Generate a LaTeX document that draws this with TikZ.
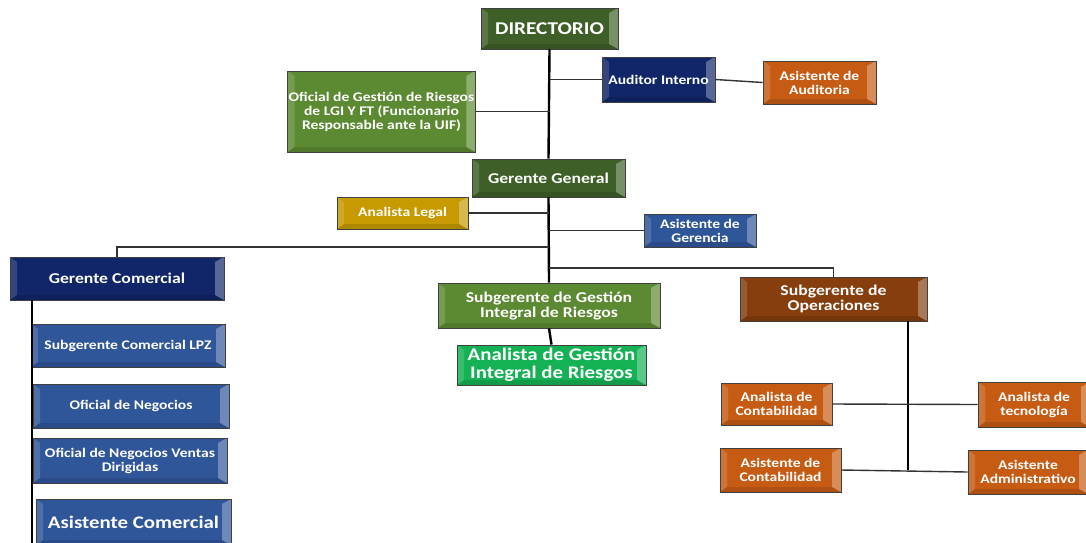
\documentclass[tikz,border=0pt]{standalone}
\usepackage{fontspec}
\setmainfont{Carlito}
\newfontfamily\boxfont[FakeStretch=1.18]{Carlito}

\definecolor{ccdkgreen}{RGB}{62,96,40}
\definecolor{ccgreen}{RGB}{92,138,50}
\definecolor{ccbright}{RGB}{20,178,85}
\definecolor{ccnavy}{RGB}{17,38,104}
\definecolor{ccblue}{RGB}{48,86,154}
\definecolor{ccorange}{RGB}{198,92,20}
\definecolor{ccbrown}{RGB}{134,62,14}
\definecolor{ccgold}{RGB}{198,154,0}

\tikzset{
  box/.style={draw=black!75, line width=0.8pt, text=white, align=center,
    inner sep=1pt, font=\boxfont\bfseries\fontsize{13.2}{14}\selectfont,
    path picture={
      \fill[white, opacity=0.30] (path picture bounding box.north east)
        -- ([xshift=-9pt,yshift=-5pt]path picture bounding box.north east)
        -- ([xshift=-9pt,yshift=5pt]path picture bounding box.south east)
        -- (path picture bounding box.south east) -- cycle;
      \fill[white, opacity=0.15] (path picture bounding box.north west)
        -- ([xshift=7pt,yshift=-5pt]path picture bounding box.north west)
        -- ([xshift=7pt,yshift=5pt]path picture bounding box.south west)
        -- (path picture bounding box.south west) -- cycle;
      \fill[black, opacity=0.12] (path picture bounding box.south west)
        -- ([xshift=7pt,yshift=5pt]path picture bounding box.south west)
        -- ([xshift=-9pt,yshift=5pt]path picture bounding box.south east)
        -- (path picture bounding box.south east) -- cycle;
    }},
  sz/.style 2 args={minimum width=#1pt, minimum height=#2pt},
  mid/.style={font=\boxfont\bfseries\fontsize{15}{15}\selectfont},
  big/.style={font=\boxfont\bfseries\fontsize{17.7}{18}\selectfont},
  trunk/.style={line width=2.4pt, black},
  link/.style={line width=1.4pt, black!80}
}

\begin{document}
\begin{tikzpicture}[x=1pt, y=-1pt]
  \useasboundingbox (0,0) rectangle (1086,542);

  % Directorio
  \draw (549.5,28.5) node[box, fill=ccdkgreen, sz={137}{41}, font=\boxfont\bfseries\fontsize{18}{18}\selectfont] (dir) {DIRECTORIO};
  \draw (658.5,79.5) node[box, fill=ccnavy, sz={113}{45}] (aud) {Auditor Interno};
  \draw (819.5,82.5) node[box, fill=ccorange, sz={113}{43}] (asaud) {Asistente de\\Auditoria};
  \draw (381.5,111.5) node[box, fill=ccgreen, sz={185}{81}] (ofi) {Oficial de Gestión de Riesgos\\de LGI Y FT (Funcionario\\Responsable ante la UIF)};

  % Gerencia
  \draw (548.5,178) node[box, mid, fill=ccdkgreen, sz={153}{38}] (gg) {Gerente General};
  \draw (402.5,213) node[box, fill=ccgold, sz={131}{32}] (legal) {Analista Legal};
  \draw (700,230.5) node[box, fill=ccblue, sz={112}{33}] (asger) {Asistente de\\Gerencia};

  % Riesgos
  \draw (549,305.5) node[box, mid, fill=ccgreen, sz={222}{45}] (sgir) {Subgerente de Gestión\\Integral de Riesgos};
  \draw (551.5,365) node[box, big, fill=ccbright, sz={189}{40}] (agir) {Analista de Gestión\\Integral de Riesgos};

  % Comercial
  \draw (117,278.5) node[box, mid, fill=ccnavy, sz={214}{43}] (gcom) {Gerente Comercial};
  \draw (128,345.5) node[box, fill=ccblue, sz={194}{43}] (lpz) {Subgerente Comercial LPZ};
  \draw (131,406) node[box, fill=ccblue, sz={196}{44}] (neg) {Oficial de Negocios};
  \draw (130,460.5) node[box, fill=ccblue, sz={194}{45}] (vent) {Oficial de Negocios Ventas\\Dirigidas};
  \draw (133.5,522) node[box, big, fill=ccblue, sz={195}{46}] (ascom) {Asistente Comercial};

  % Operaciones
  \draw (833.5,299) node[box, mid, fill=ccbrown, sz={187}{44}] (sop) {Subgerente de\\Operaciones};
  \draw (776.5,404) node[box, fill=ccorange, sz={111}{42}] (acont) {Analista de\\Contabilidad};
  \draw (1034,404.5) node[box, fill=ccorange, sz={112}{45}] (atec) {Analista de\\tecnología};
  \draw (780.5,470) node[box, fill=ccorange, sz={121}{44}] (ascont) {Asistente de\\Contabilidad};
  \draw (1028,472) node[box, fill=ccorange, sz={120}{44}] (asadm) {Asistente\\Administrativo};

  % Lineas
  \coordinate (jc) at (549,247);
  \coordinate (jo) at (549,268);
  \draw[trunk] (dir.south) -- (gg.north);
  \draw[trunk] (gg.south) -- (sgir.north);
  \draw[link] (aud.west) -- (aud.west -| dir.south);
  \draw[link] (aud.east) -- (asaud.west);
  \draw[link] (ofi.east) -- (ofi.east -| dir.south);
  \draw[link] (legal.east) -- (legal.east -| gg.south);
  \draw[link] (asger.west) -- (asger.west -| gg.south);
  \draw[link] (jc) -| (gcom.north);
  \draw[link] (jo) -| (sop.north);
  \draw[trunk] (sgir.south) -- (agir.north);
  \draw[trunk, line width=2pt] ([xshift=-85pt]gcom.south) -- ([xshift=-85pt]gcom.south |- ascom.south);
  \coordinate (op) at ([xshift=74.5pt]sop.south);
  \draw[trunk] (op) -- (op |- ascont.east);
  \draw[link] (acont.east) -- (atec.west);
  \draw[link] (ascont.east) -- (asadm.west);

\end{tikzpicture}
\end{document}
